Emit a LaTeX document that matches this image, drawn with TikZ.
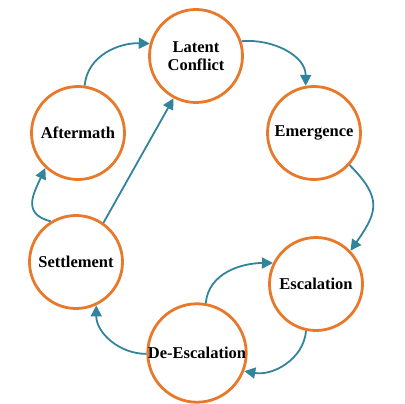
\documentclass[tikz,border=0pt]{standalone}
\usepackage{fontspec}
\setmainfont{Liberation Serif}
\usepackage{tikz}
\usetikzlibrary{arrows.meta}
\usetikzlibrary{positioning}
\definecolor{stageorange}{HTML}{E8792A}
\definecolor{flowteal}{HTML}{31849B}
\tikzstyle{stage}=[circle,draw=stageorange,fill=white,line width=2.8pt,minimum size=93pt,inner sep=0pt,align=center,font=\fontsize{16.5}{18}\selectfont\bfseries]
\tikzstyle{flow} = [draw,line width=1.8pt,flowteal,-{Triangle[length=11pt,width=11pt]}]

\begin{document}
\begin{tikzpicture}[x=1pt,y=-1pt]
    \useasboundingbox (0,0) rectangle (405,404);
    % the six stages of the cycle

    \foreach \pos/\name/\label in {{(196,56)/lat/Latent\\Conflict}, {(314,133)/emg/Emergence}, {(316,284)/esc/Escalation}, {(197,353)/desc/De-Escalation}, {(76,262)/stl/Settlement}, {(78,133)/aft/Aftermath}}
        \node[stage] (\name) at \pos {\label};

    % connect the stages
    \path[flow] (aft.82) to[out=85,in=178] (lat.165);
    \path[flow] (lat.18) to[out=5,in=90] (emg.100);
    \path[flow] (emg.-42) to[out=-45,in=55,looseness=1.4] (esc.44);
    \path[flow] (esc.-102) to[out=-95,in=-10] (desc.-21);
    \path[flow] (desc.80) to[out=85,in=180] (esc.154);
    \path[flow] (desc.181) to[out=180,in=-90] (stl.-65);
    \path[flow] (stl.122) to[out=165,in=-115,looseness=1.4] (aft.-133);
    \path[flow] (stl.55) -- (lat.-118);
\end{tikzpicture}
\end{document}
